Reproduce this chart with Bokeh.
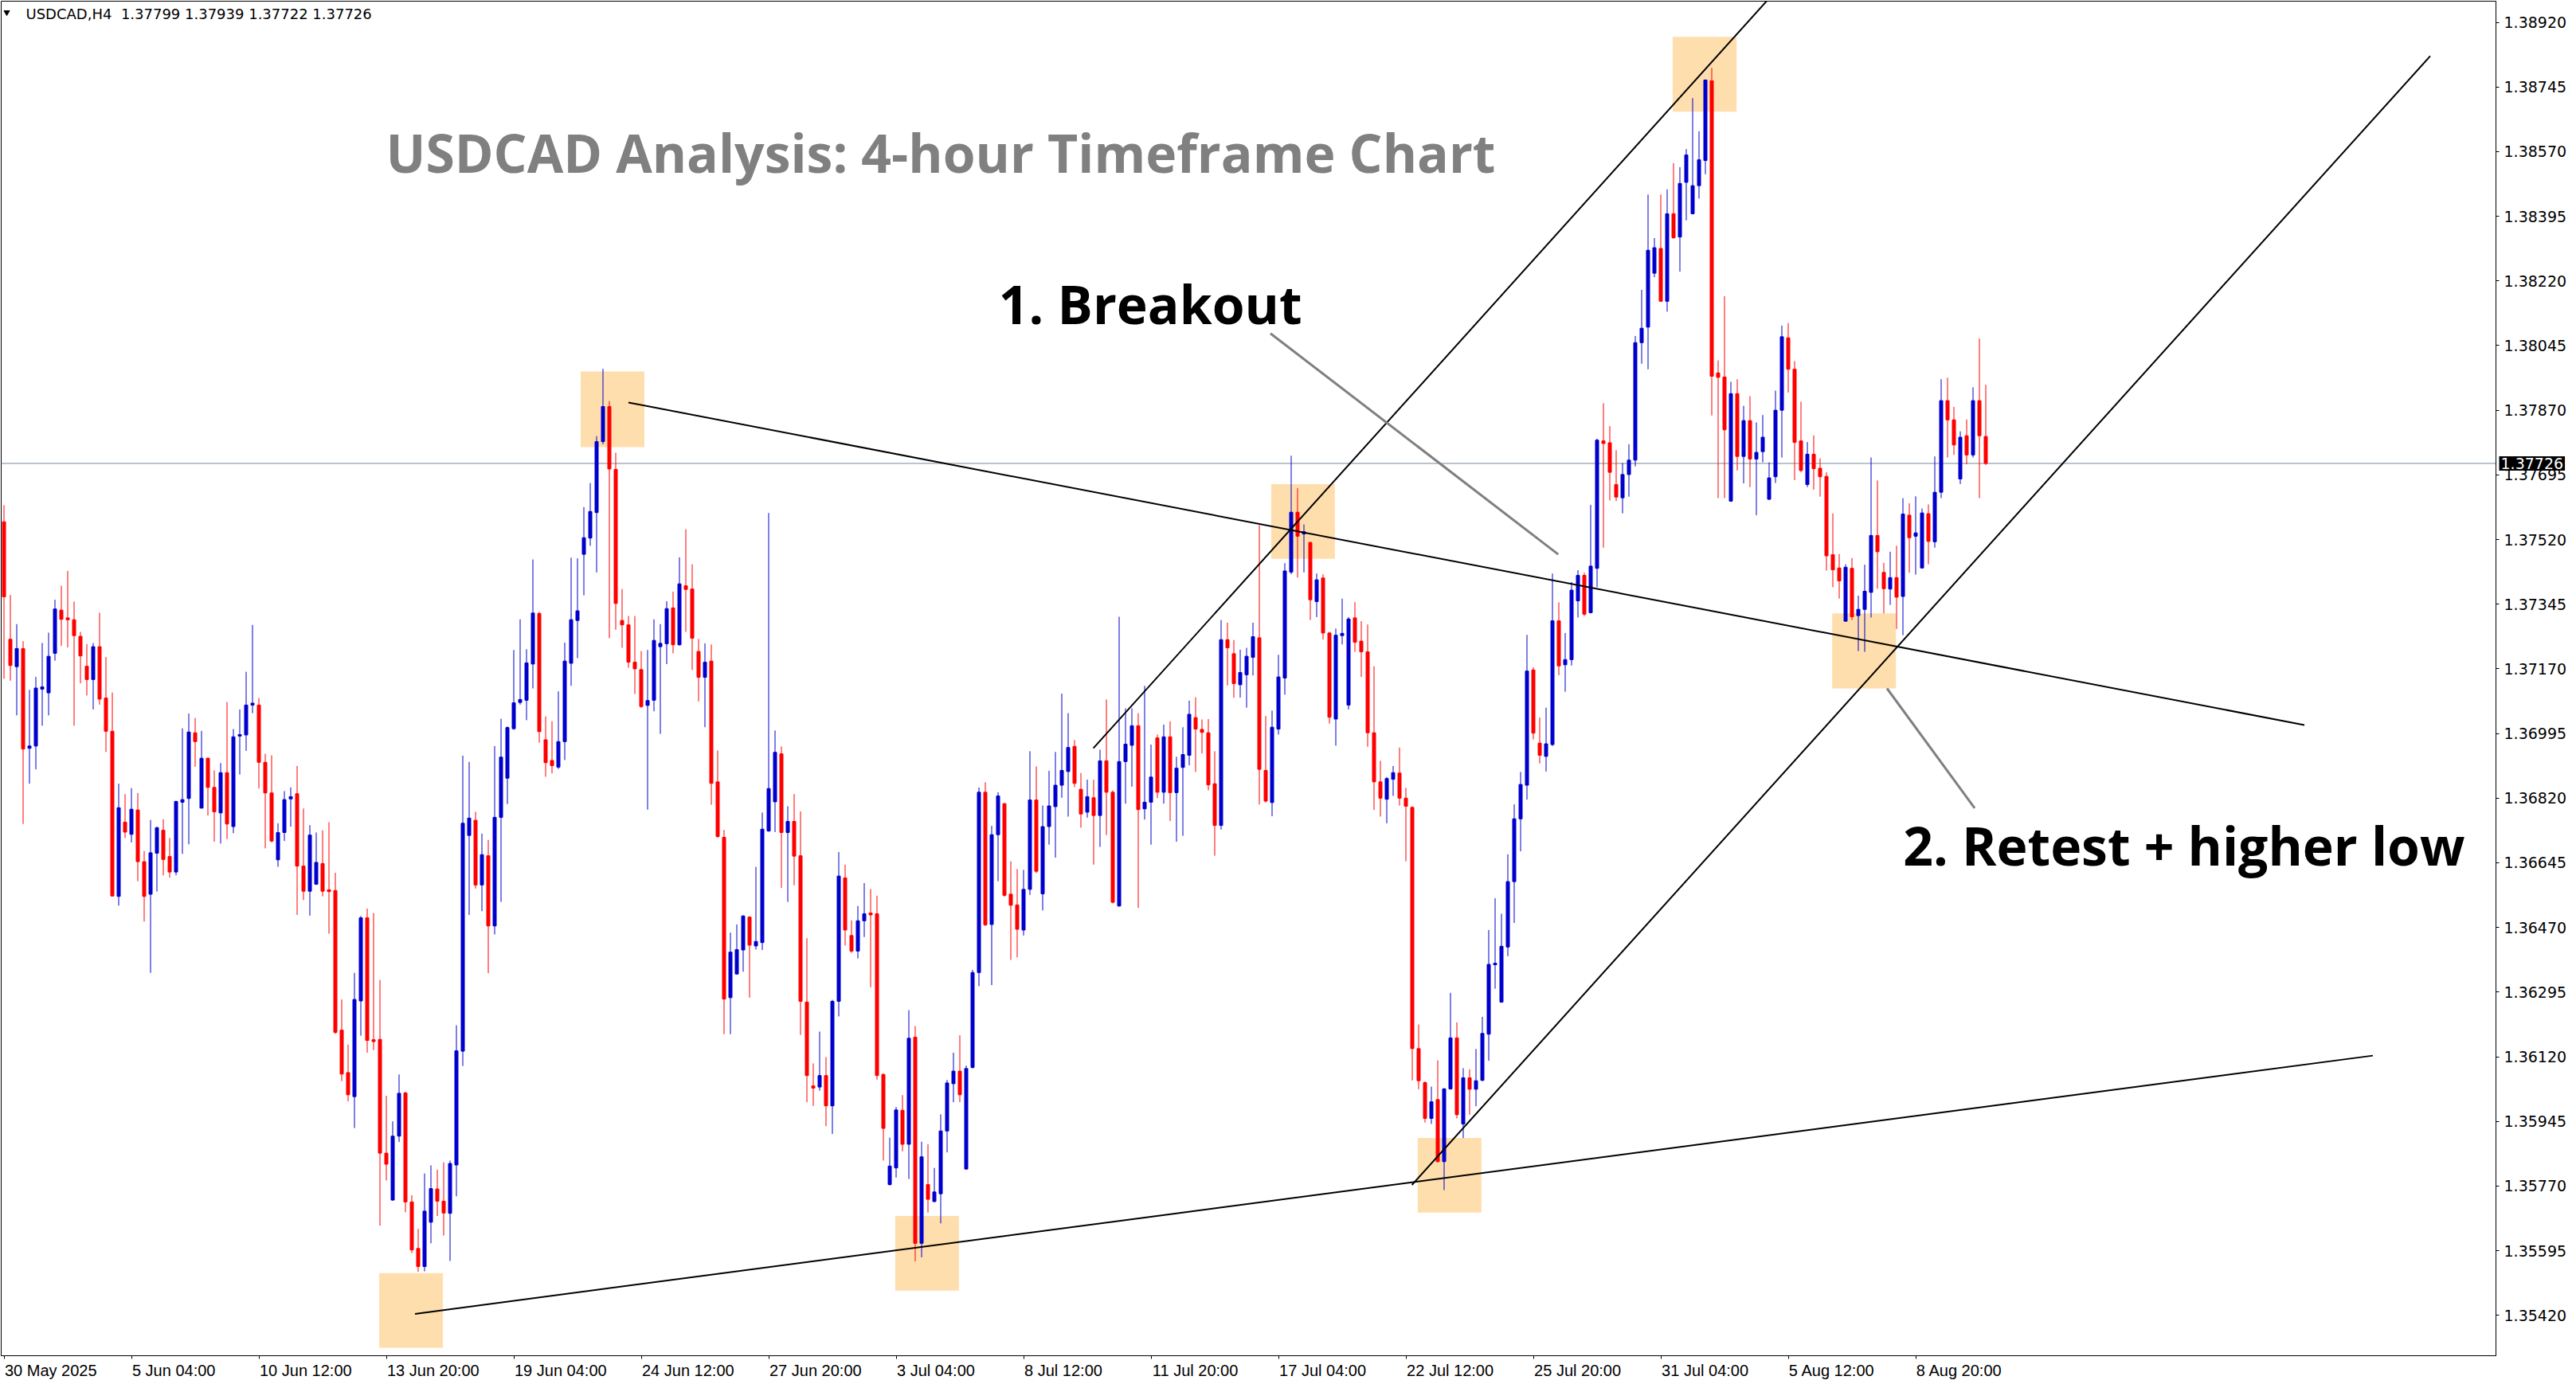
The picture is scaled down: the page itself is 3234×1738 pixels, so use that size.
from bokeh.plotting import figure
from bokeh.models import Range1d, FixedTicker, Label, Span, PrintfTickFormatter
from bokeh.embed import file_html
from bokeh.resources import INLINE

# ---------------- data (USDCAD H4) ----------------
opens = [
1.37568,1.37250,1.37176,1.37225,1.36955,1.36961,1.37115,1.37105,1.37212,1.37329,
1.37308,1.37303,1.37258,1.37177,1.37141,1.37230,1.37091,1.37001,1.36554,1.36755,
1.36722,1.36788,1.36648,1.36560,1.36671,1.36733,1.36662,1.36620,1.36809,1.36819,
1.36997,1.36793,1.36928,1.36849,1.36780,1.36889,1.36743,1.36988,1.36991,1.37072,
1.37072,1.36917,1.36834,1.36653,1.36727,1.36818,1.36832,1.36636,1.36568,1.36587,
1.36643,1.36572,1.36570,1.36192,1.36077,1.36012,1.36271,1.36496,1.36166,1.36167,
1.35859,1.35732,1.35905,1.36022,1.35727,1.35601,1.35552,1.35672,1.35762,1.35729,
1.35696,1.35827,1.36135,1.36719,1.36760,1.36585,1.36664,1.36474,1.36768,1.36874,
1.37008,1.37079,1.37085,1.37183,1.37320,1.36978,1.36922,1.36904,1.36973,1.37185,
1.37301,1.37480,1.37524,1.37593,1.37785,1.37880,1.37710,1.37301,1.37289,1.37188,
1.37168,1.37071,1.37085,1.37230,1.37238,1.37335,1.37235,1.37395,1.37386,1.37217,
1.37147,1.37191,1.36864,1.36714,1.36280,1.36344,1.36409,1.36498,1.36420,1.36429,
1.36731,1.36810,1.36940,1.36727,1.36757,1.36664,1.36268,1.36041,1.36038,1.36069,
1.35987,1.36270,1.36604,1.36448,1.36406,1.36488,1.36509,1.36507,1.36072,1.35774,
1.35819,1.35975,1.35883,1.36173,1.35615,1.35774,1.35728,1.35749,1.35919,1.36047,
1.36081,1.35816,1.36091,1.36348,1.36836,1.36478,1.36721,1.36805,1.36560,1.36531,
1.36463,1.36573,1.36815,1.36561,1.36743,1.36797,1.36855,1.36892,1.36960,1.36844,
1.36782,1.36821,1.36773,1.36921,1.36836,1.36528,1.36919,1.36963,1.37016,1.36791,
1.36809,1.36983,1.36836,1.36986,1.36835,1.36903,1.36936,1.37038,1.37006,1.36997,
1.36859,1.36746,1.37249,1.37211,1.37127,1.37154,1.37201,1.37254,1.36895,1.36808,
1.37007,1.37145,1.37432,1.37594,1.37535,1.37512,1.37352,1.37416,1.37267,1.37034,
1.37260,1.37072,1.37308,1.37245,1.37216,1.36997,1.36864,1.36817,1.36871,1.36888,
1.36820,1.36795,1.36142,1.36050,1.35953,1.36004,1.35836,1.36033,1.36171,1.35938,
1.36063,1.36032,1.36056,1.36181,1.36369,1.36268,1.36417,1.36594,1.36764,1.36855,
1.37167,1.36969,1.36933,1.36965,1.37300,1.37181,1.37195,1.37354,1.37423,1.37322,
1.37442,1.37787,1.37782,1.37669,1.37633,1.37696,1.37735,1.38053,1.38095,1.38241,
1.38308,1.38165,1.38402,1.38339,1.38487,1.38402,1.38478,1.38546,1.38762,1.37971,
1.37960,1.37624,1.37915,1.37745,1.37842,1.37738,1.37758,1.37629,1.37690,1.37870,
1.38066,1.37981,1.37787,1.37669,1.37751,1.37713,1.37691,1.37479,1.37443,1.37299,
1.37442,1.37314,1.37331,1.37377,1.37531,1.37431,1.37386,1.37417,1.37366,1.37586,
1.37529,1.37443,1.37590,1.37514,1.37648,1.37896,1.37844,1.37684,1.37801,1.37749,
1.37896,1.37799]
highs = [
1.37613,1.37370,1.37291,1.37245,1.37113,1.37148,1.37240,1.37268,1.37357,1.37395,
1.37435,1.37352,1.37270,1.37237,1.37240,1.37322,1.37202,1.37106,1.36859,1.36831,
1.36847,1.36834,1.36677,1.36761,1.36743,1.36763,1.36712,1.36813,1.37009,1.37049,
1.37037,1.37002,1.36930,1.36895,1.36915,1.37080,1.37007,1.37060,1.37162,1.37289,
1.37091,1.36940,1.36936,1.36752,1.36839,1.36849,1.36907,1.36792,1.36747,1.36727,
1.36733,1.36755,1.36618,1.36275,1.36153,1.36347,1.36501,1.36521,1.36509,1.36328,
1.36014,1.35945,1.36072,1.36025,1.35745,1.35654,1.35804,1.35826,1.35814,1.35834,
1.35839,1.36205,1.36935,1.36918,1.36783,1.36724,1.36707,1.36961,1.37035,1.37014,
1.37221,1.37304,1.37223,1.37466,1.37324,1.37041,1.37028,1.37109,1.37241,1.37471,
1.37469,1.37608,1.37673,1.37800,1.37982,1.37895,1.37755,1.37386,1.37313,1.37313,
1.37218,1.37221,1.37304,1.37291,1.37353,1.37379,1.37472,1.37548,1.37453,1.37251,
1.37239,1.37236,1.36949,1.36734,1.36456,1.36478,1.36503,1.36500,1.36634,1.36781,
1.37592,1.37003,1.36960,1.36798,1.36831,1.36784,1.36441,1.36102,1.36188,1.36119,
1.36274,1.36674,1.36640,1.36489,1.36528,1.36590,1.36574,1.36556,1.36075,1.35901,
1.35984,1.36016,1.36246,1.36203,1.35890,1.35883,1.35819,1.35964,1.36057,1.36131,
1.36178,1.36096,1.36355,1.36849,1.36863,1.36745,1.36836,1.36807,1.36649,1.36628,
1.36626,1.36947,1.36906,1.36800,1.36894,1.36945,1.37103,1.37050,1.36977,1.36888,
1.36870,1.36870,1.36951,1.37087,1.36841,1.37311,1.37063,1.37063,1.37050,1.37124,
1.36965,1.36992,1.37019,1.37028,1.36932,1.37012,1.37084,1.37093,1.37033,1.37034,
1.36947,1.37302,1.37295,1.37248,1.37222,1.37227,1.37295,1.37559,1.37042,1.37057,
1.37208,1.37456,1.37747,1.37659,1.37561,1.37515,1.37428,1.37426,1.37270,1.37279,
1.37360,1.37310,1.37351,1.37299,1.37290,1.37177,1.36921,1.36877,1.36907,1.36957,
1.36848,1.36798,1.36207,1.36053,1.36039,1.36110,1.36035,1.36293,1.36213,1.36089,
1.36086,1.36141,1.36228,1.36463,1.36549,1.36507,1.36668,1.36803,1.36891,1.37262,
1.37174,1.37038,1.37065,1.37428,1.37350,1.37267,1.37405,1.37437,1.37430,1.37614,
1.37793,1.37889,1.37827,1.37762,1.37727,1.37778,1.38071,1.38196,1.38454,1.38336,
1.38454,1.38468,1.38539,1.38528,1.38577,1.38715,1.38625,1.38765,1.38797,1.38005,
1.38179,1.37947,1.37954,1.37882,1.37908,1.37837,1.37857,1.37729,1.37923,1.38099,
1.38106,1.38003,1.37893,1.37784,1.37802,1.37740,1.37702,1.37591,1.37481,1.37453,
1.37470,1.37368,1.37452,1.37742,1.37680,1.37457,1.37487,1.37503,1.37632,1.37618,
1.37637,1.37604,1.37615,1.37745,1.37954,1.37958,1.37879,1.37813,1.37845,1.37932,
1.38064,1.37939]
lows = [
1.37143,1.37138,1.37044,1.36750,1.36859,1.36898,1.37016,1.37044,1.37192,1.37232,
1.37228,1.37016,1.37131,1.37098,1.37060,1.37073,1.36945,1.36554,1.36529,1.36712,
1.36700,1.36595,1.36486,1.36347,1.36567,1.36611,1.36605,1.36611,1.36669,1.36695,
1.36905,1.36792,1.36773,1.36702,1.36697,1.36709,1.36725,1.36884,1.36948,1.37050,
1.36846,1.36684,1.36700,1.36634,1.36704,1.36743,1.36504,1.36544,1.36502,1.36585,
1.36554,1.36453,1.36182,1.36054,1.35999,1.35927,1.36177,1.36131,1.36138,1.35663,
1.35785,1.35730,1.35889,1.35699,1.35588,1.35538,1.35539,1.35615,1.35689,1.35636,
1.35567,1.35742,1.36095,1.36504,1.36575,1.36514,1.36346,1.36451,1.36539,1.36804,
1.37005,1.37073,1.37031,1.37117,1.36970,1.36878,1.36887,1.36899,1.36923,1.37124,
1.37199,1.37369,1.37503,1.37431,1.37778,1.37253,1.37276,1.37227,1.37173,1.37102,
1.37064,1.36789,1.37055,1.36994,1.37183,1.37212,1.37233,1.37270,1.37167,1.37082,
1.37012,1.36802,1.36713,1.36181,1.36181,1.36342,1.36350,1.36280,1.36410,1.36409,
1.36729,1.36728,1.36577,1.36539,1.36584,1.36179,1.35997,1.35987,1.36028,1.35932,
1.35911,1.36229,1.36421,1.36401,1.36386,1.36444,1.36308,1.36058,1.35839,1.35771,
1.35793,1.35864,1.35789,1.35566,1.35577,1.35698,1.35726,1.35669,1.35861,1.35997,
1.35997,1.35814,1.36088,1.36311,1.36474,1.36314,1.36595,1.36553,1.36382,1.36389,
1.36448,1.36558,1.36617,1.36516,1.36694,1.36659,1.36821,1.36770,1.36850,1.36740,
1.36767,1.36640,1.36688,1.36720,1.36535,1.36526,1.36805,1.36851,1.36523,1.36762,
1.36694,1.36820,1.36805,1.36758,1.36702,1.36718,1.36909,1.36891,1.36941,1.36841,
1.36664,1.36735,1.37125,1.37092,1.37092,1.37065,1.37152,1.36803,1.36808,1.36771,
1.36992,1.37100,1.37426,1.37417,1.37431,1.37302,1.37310,1.37249,1.37022,1.36962,
1.37236,1.37060,1.37216,1.37148,1.36959,1.36788,1.36770,1.36752,1.36826,1.36800,
1.36649,1.36056,1.36032,1.35942,1.35938,1.35834,1.35759,1.36031,1.35953,1.35900,
1.35963,1.35986,1.36054,1.36109,1.36304,1.36266,1.36392,1.36482,1.36676,1.36816,
1.36979,1.36914,1.36892,1.36961,1.37153,1.37108,1.37179,1.37309,1.37313,1.37320,
1.37391,1.37498,1.37626,1.37624,1.37591,1.37636,1.37718,1.37996,1.37981,1.38230,
1.38164,1.38137,1.38334,1.38245,1.38384,1.38400,1.38443,1.38509,1.37856,1.37632,
1.37632,1.37622,1.37707,1.37672,1.37662,1.37586,1.37729,1.37627,1.37673,1.37742,
1.37918,1.37681,1.37702,1.37662,1.37655,1.37636,1.37436,1.37391,1.37360,1.37297,
1.37302,1.37218,1.37216,1.37309,1.37387,1.37320,1.37343,1.37278,1.37261,1.37430,
1.37425,1.37442,1.37453,1.37498,1.37632,1.37742,1.37749,1.37670,1.37724,1.37742,
1.37632,1.37722]
closes = [
1.37365,1.37179,1.37225,1.36953,1.36961,1.37118,1.37121,1.37204,1.37332,1.37304,
1.37303,1.37260,1.37205,1.37141,1.37230,1.37088,1.37001,1.36555,1.36794,1.36728,
1.36790,1.36648,1.36554,1.36672,1.36740,1.36654,1.36620,1.36811,1.36816,1.36999,
1.36973,1.36928,1.36849,1.36783,1.36889,1.36750,1.36986,1.36992,1.37072,1.37077,
1.36917,1.36834,1.36704,1.36727,1.36816,1.36824,1.36636,1.36568,1.36720,1.36646,
1.36568,1.36567,1.36186,1.36073,1.36017,1.36275,1.36496,1.36164,1.36161,1.35859,
1.35829,1.35905,1.36021,1.35727,1.35597,1.35552,1.35702,1.35763,1.35729,1.35697,
1.35831,1.36136,1.36752,1.36766,1.36585,1.36667,1.36474,1.36768,1.36931,1.37011,
1.37078,1.37087,1.37186,1.37321,1.37000,1.36916,1.36908,1.36973,1.37191,1.37303,
1.37327,1.37525,1.37596,1.37785,1.37880,1.37711,1.37347,1.37289,1.37188,1.37170,
1.37068,1.37084,1.37247,1.37239,1.37333,1.37235,1.37400,1.37385,1.37253,1.37147,
1.37188,1.36860,1.36716,1.36276,1.36403,1.36410,1.36501,1.36422,1.36432,1.36736,
1.36846,1.36944,1.36727,1.36757,1.36663,1.36270,1.36069,1.36035,1.36069,1.35987,
1.36270,1.36609,1.36463,1.36406,1.36488,1.36507,1.36504,1.36069,1.35926,1.35824,
1.35976,1.35883,1.36170,1.35615,1.35849,1.35734,1.35754,1.35919,1.36049,1.36081,
1.36017,1.36088,1.36348,1.36836,1.36477,1.36721,1.36826,1.36557,1.36530,1.36465,
1.36573,1.36815,1.36622,1.36743,1.36799,1.36855,1.36895,1.36957,1.36860,1.36777,
1.36824,1.36773,1.36921,1.36836,1.36538,1.36919,1.36966,1.37016,1.36789,1.36809,
1.36877,1.36836,1.36986,1.36835,1.36901,1.36938,1.37047,1.37007,1.36998,1.36856,
1.36746,1.37249,1.37227,1.37130,1.37160,1.37204,1.37257,1.36898,1.36812,1.37012,
1.37148,1.37435,1.37594,1.37529,1.37541,1.37357,1.37411,1.37267,1.37039,1.37261,
1.37266,1.37305,1.37242,1.37216,1.36997,1.36864,1.36820,1.36873,1.36889,1.36820,
1.36798,1.36142,1.36055,1.35953,1.35998,1.35836,1.36033,1.36171,1.35963,1.36063,
1.36032,1.36055,1.36183,1.36370,1.36373,1.36419,1.36594,1.36764,1.36857,1.37164,
1.36996,1.36936,1.36967,1.37300,1.37178,1.37195,1.37383,1.37423,1.37318,1.37448,
1.37789,1.37780,1.37702,1.37635,1.37696,1.37735,1.38053,1.38092,1.38303,1.38310,
1.38165,1.38402,1.38337,1.38484,1.38561,1.38478,1.38548,1.38764,1.37962,1.37959,
1.37817,1.37915,1.37745,1.37842,1.37738,1.37756,1.37797,1.37687,1.37870,1.38069,
1.37981,1.37783,1.37707,1.37751,1.37712,1.37690,1.37476,1.37438,1.37408,1.37445,
1.37311,1.37331,1.37380,1.37531,1.37487,1.37387,1.37417,1.37364,1.37589,1.37525,
1.37538,1.37592,1.37515,1.37648,1.37896,1.37844,1.37776,1.37797,1.37749,1.37896,
1.37801,1.37726]

time_tick_bars = [0, 20, 40, 60, 80, 100, 120, 140, 160, 180, 200, 220, 240, 260, 280, 300]
time_tick_labels = ["30 May 2025", "5 Jun 04:00", "10 Jun 12:00", "13 Jun 20:00",
                    "19 Jun 04:00", "24 Jun 12:00", "27 Jun 20:00", "3 Jul 04:00",
                    "8 Jul 12:00", "11 Jul 20:00", "17 Jul 04:00", "22 Jul 12:00",
                    "25 Jul 20:00", "31 Jul 04:00", "5 Aug 12:00", "8 Aug 20:00"]
# half the width of each time label (in bars), so that the text starts at its tick
time_label_half = [7.35, 6.65, 7.35, 7.35, 7.35, 7.35, 7.35, 6.25,
                   6.25, 6.95, 6.95, 6.95, 6.95, 6.95, 6.85, 6.85]
price_ticks = [1.35420, 1.35595, 1.35770, 1.35945, 1.36120, 1.36295, 1.36470,
               1.36645, 1.36820, 1.36995, 1.37170, 1.37345, 1.37520, 1.37695,
               1.37870, 1.38045, 1.38220, 1.38395, 1.38570, 1.38745, 1.38920]
last_price = 1.37726
header_text = "USDCAD,H4\u00a0 1.37799 1.37939 1.37722 1.37726"

# analyst drawings: (bar index, price) end points
trend_lines = {
    "falling_resistance": ([98.0, 361.0], [1.37891, 1.37018]),
    "rising_support": ([64.5, 371.75], [1.35424, 1.36123]),
    "channel_upper": ([170.95, 277.0], [1.36955, 1.38985]),
    "channel_lower": ([220.95, 380.75], [1.35773, 1.38829]),
}
pointer_lines = {
    "breakout": ([198.75, 243.9], [1.38078, 1.37480]),
    "retest": ([295.5, 309.26], [1.37117, 1.36793]),
}
# highlight boxes: left bar, right bar, top price, bottom price
box_left = [58.89, 90.5, 139.86, 198.86, 221.86, 261.86, 286.90]
box_right = [68.89, 100.5, 149.86, 208.86, 231.86, 271.90, 296.90]
box_top = [1.35534, 1.37975, 1.35689, 1.37670, 1.35900, 1.38881, 1.37320]
box_bottom = [1.35332, 1.37770, 1.35487, 1.37468, 1.35698, 1.38678, 1.37117]

# ---------------- figure ----------------
BULL = "#0000CD"
BEAR = "#FF0000"

p = figure(frame_width=3132, frame_height=1701, output_backend="svg",
           toolbar_location=None, tools="", y_axis_location="right",
           x_range=Range1d(-0.4375, 391.0625), y_range=Range1d(1.353106, 1.389773),
           min_border_left=1, min_border_top=1, min_border_right=100, min_border_bottom=0)
p.background_fill_color = "white"
p.border_fill_color = "white"
p.outline_line_color = "black"
p.outline_line_width = 1
p.xgrid.visible = False
p.ygrid.visible = False

# boxes (background)
p.quad(left=box_left, right=box_right, top=box_top, bottom=box_bottom,
       fill_color="#FFDEAD", line_color=None)

# last price line
p.add_layout(Span(location=last_price, dimension="width", line_color="#778899",
                  line_width=1, level="underlay"))

# candles
idx = list(range(len(opens)))
cols = [BULL if c >= o else BEAR for o, c in zip(opens, closes)]
tops = [max(o, c) for o, c in zip(opens, closes)]
bots = [min(o, c) for o, c in zip(opens, closes)]
p.segment(x0=idx, y0=lows, x1=idx, y1=highs, line_color=cols, line_width=1)
p.vbar(x=idx, width=0.5, top=tops, bottom=bots, fill_color=cols, line_color=cols,
       line_width=1)

# trend lines
for xs, ys in trend_lines.values():
    p.line(xs, ys, line_color="black", line_width=2)
for xs, ys in pointer_lines.values():
    p.line(xs, ys, line_color="#808080", line_width=3)

# time axis: tick marks (minor ticks) at the bars, labels starting at the ticks
label_pos = [b + h for b, h in zip(time_tick_bars, time_label_half)]
xa = p.xaxis[0]
xa.ticker = FixedTicker(ticks=label_pos, minor_ticks=time_tick_bars)
xa.major_label_overrides = {x: t for x, t in zip(label_pos, time_tick_labels)}
xa.major_label_text_font = "Liberation Sans"
xa.major_label_text_font_size = "20px"
xa.major_label_text_color = "black"
xa.major_label_standoff = 3
xa.major_tick_line_color = None
xa.major_tick_out = 0
xa.major_tick_in = 0
xa.minor_tick_line_color = "black"
xa.minor_tick_out = 4
xa.minor_tick_in = 0
xa.axis_line_color = "black"

ya = p.yaxis[0]
ya.ticker = FixedTicker(ticks=price_ticks)
ya.formatter = PrintfTickFormatter(format="%.5f")
ya.major_label_text_font = "DejaVu Sans"
ya.major_label_text_font_size = "19px"
ya.major_label_text_color = "black"
ya.major_label_standoff = 6
ya.major_tick_out = 4
ya.major_tick_in = 0
ya.minor_tick_out = 0
ya.minor_tick_in = 0
ya.axis_line_color = "black"
ya.major_tick_line_color = "black"

# current price marker on the price scale
p.add_layout(Label(x=391.5625, y=last_price, text="1.37726", text_color="white",
                   text_font="DejaVu Sans", text_font_size="19px",
                   text_baseline="middle", text_align="left",
                   background_fill_color="black", padding=2), "right")

# header
p.scatter(x=[0.4375], y=[1.389471], marker="inverted_triangle", size=7,
          fill_color="black", line_color="black")
p.add_layout(Label(x=3.44, y=1.38943, text=header_text,
                   text_font="DejaVu Sans", text_font_size="18px", text_color="black",
                   text_baseline="alphabetic", text_align="left"))

# texts
p.add_layout(Label(x=147.0, y=1.38568, text="USDCAD Analysis: 4-hour Timeframe Chart",
                   text_font="Open Sans", text_font_style="bold", text_font_size="66px",
                   text_color="#808080", text_align="center", text_baseline="alphabetic"))
p.add_layout(Label(x=179.9, y=1.38160, text="1. Breakout",
                   text_font="Open Sans", text_font_style="bold", text_font_size="66px",
                   text_color="black", text_align="center", text_baseline="alphabetic"))
p.add_layout(Label(x=342.1, y=1.36693, text="2. Retest + higher low",
                   text_font="Open Sans", text_font_style="bold", text_font_size="66px",
                   text_color="black", text_align="center", text_baseline="alphabetic"))

open("out.html", "w").write(file_html(p, INLINE))
